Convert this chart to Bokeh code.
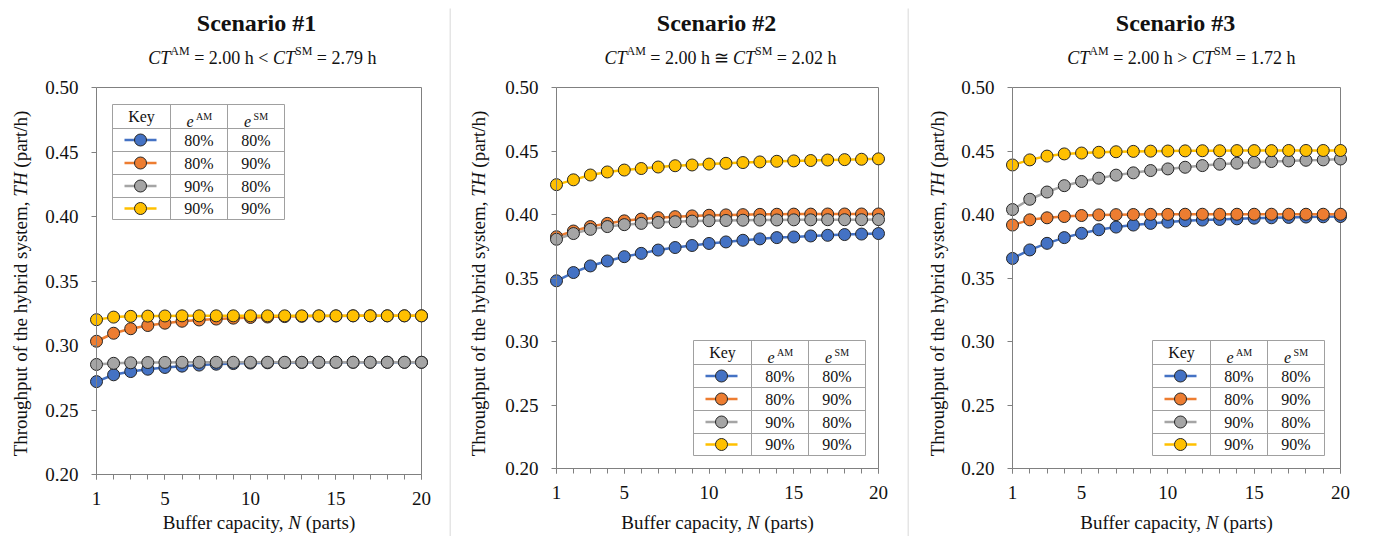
import math
import subprocess
from bokeh.plotting import figure
from bokeh.models import Range1d, FixedTicker, Label, NumeralTickFormatter
from bokeh.layouts import row
from bokeh.embed import file_html
from bokeh.resources import INLINE

# ---------------- data ----------------
N_PARTS = [1, 2, 3, 4, 5, 6, 7, 8, 9, 10, 11, 12, 13, 14, 15, 16, 17, 18, 19, 20]

TITLES = ["Scenario #1", "Scenario #2", "Scenario #3"]
CT_AM = ["2.00", "2.00", "2.00"]
CT_SM = ["2.79", "2.02", "1.72"]
RELATION = ["<", "≅", ">"]

KEY_E_AM = ["80%", "80%", "90%", "90%"]
KEY_E_SM = ["80%", "90%", "80%", "90%"]

# Scenario 1
S1_AM80_SM80 = [0.2720, 0.2773, 0.2798, 0.2816, 0.2830, 0.2840, 0.2848, 0.2855, 0.2860, 0.2864,
                0.2866, 0.2868, 0.2869, 0.2870, 0.2870, 0.2870, 0.2870, 0.2870, 0.2870, 0.2870]
S1_AM80_SM90 = [0.3033, 0.3095, 0.3130, 0.3155, 0.3173, 0.3188, 0.3198, 0.3205, 0.3212, 0.3217,
                0.3221, 0.3224, 0.3226, 0.3228, 0.3229, 0.3230, 0.3230, 0.3230, 0.3230, 0.3230]
S1_AM90_SM80 = [0.2853, 0.2862, 0.2866, 0.2868, 0.2869, 0.2870, 0.2870, 0.2870, 0.2870, 0.2870,
                0.2870, 0.2870, 0.2870, 0.2870, 0.2870, 0.2870, 0.2870, 0.2870, 0.2870, 0.2870]
S1_AM90_SM90 = [0.3200, 0.3220, 0.3226, 0.3228, 0.3229, 0.3230, 0.3230, 0.3230, 0.3230, 0.3230,
                0.3230, 0.3230, 0.3230, 0.3230, 0.3230, 0.3230, 0.3230, 0.3230, 0.3230, 0.3230]

# Scenario 2
S2_AM80_SM80 = [0.3478, 0.3543, 0.3595, 0.3634, 0.3668, 0.3694, 0.3720, 0.3740, 0.3756, 0.3772,
                0.3784, 0.3797, 0.3808, 0.3818, 0.3823, 0.3831, 0.3836, 0.3842, 0.3846, 0.3850]
S2_AM80_SM90 = [0.3825, 0.3870, 0.3905, 0.3930, 0.3950, 0.3964, 0.3975, 0.3983, 0.3989, 0.3994,
                0.3997, 0.3999, 0.4001, 0.4002, 0.4003, 0.4003, 0.4004, 0.4004, 0.4004, 0.4004]
S2_AM90_SM80 = [0.3805, 0.3850, 0.3883, 0.3905, 0.3920, 0.3930, 0.3938, 0.3943, 0.3948, 0.3951,
                0.3953, 0.3955, 0.3956, 0.3957, 0.3958, 0.3958, 0.3959, 0.3959, 0.3959, 0.3960]
S2_AM90_SM90 = [0.4235, 0.4273, 0.4311, 0.4335, 0.4350, 0.4362, 0.4374, 0.4384, 0.4390, 0.4397,
                0.4403, 0.4409, 0.4414, 0.4419, 0.4422, 0.4425, 0.4429, 0.4432, 0.4435, 0.4438]

# Scenario 3
S3_AM80_SM80 = [0.3654, 0.3721, 0.3773, 0.3818, 0.3852, 0.3880, 0.3901, 0.3917, 0.3930, 0.3940,
                0.3950, 0.3956, 0.3961, 0.3966, 0.3971, 0.3974, 0.3977, 0.3980, 0.3982, 0.3984]
S3_AM80_SM90 = [0.3917, 0.3958, 0.3974, 0.3984, 0.3992, 0.3997, 0.3999, 0.4000, 0.4001, 0.4001,
                0.4002, 0.4002, 0.4002, 0.4002, 0.4002, 0.4002, 0.4002, 0.4002, 0.4002, 0.4002]
S3_AM90_SM80 = [0.4039, 0.4120, 0.4177, 0.4227, 0.4260, 0.4286, 0.4310, 0.4328, 0.4346, 0.4359,
                0.4372, 0.4385, 0.4396, 0.4404, 0.4411, 0.4417, 0.4422, 0.4427, 0.4430, 0.4437]
S3_AM90_SM90 = [0.4390, 0.4430, 0.4460, 0.4477, 0.4484, 0.4490, 0.4494, 0.4497, 0.4499, 0.4500,
                0.4501, 0.4502, 0.4502, 0.4503, 0.4503, 0.4503, 0.4504, 0.4504, 0.4504, 0.4504]

SCENARIOS = [
    [S1_AM80_SM80, S1_AM80_SM90, S1_AM90_SM80, S1_AM90_SM90],
    [S2_AM80_SM80, S2_AM80_SM90, S2_AM90_SM80, S2_AM90_SM90],
    [S3_AM80_SM80, S3_AM80_SM90, S3_AM90_SM80, S3_AM90_SM90],
]

X_MIN, X_MAX = 1, 20
Y_MIN, Y_MAX = 0.20, 0.50
Y_TICKS = [0.20, 0.25, 0.30, 0.35, 0.40, 0.45, 0.50]
X_TICKS = [1, 5, 10, 15, 20]

# ---------------- style / layout ----------------
COLORS = ["#4472C4", "#ED7D31", "#A5A5A5", "#FFC000"]
SERIF = "Liberation Serif"
TXT = "#111111"
AXIS_C = "#808080"
SEP_C = "#cccccc"
H_TOTAL = 536

_FONT_FILES = {}


def _font_path(style):
    if style not in _FONT_FILES:
        pat = {"normal": "Liberation Serif:style=Regular",
               "italic": "Liberation Serif:style=Italic",
               "bold": "Liberation Serif:style=Bold"}[style]
        try:
            path = subprocess.run(["fc-match", "-f", "%{file}", pat], capture_output=True,
                                  text=True, timeout=10).stdout.strip()
        except Exception:
            path = ""
        _FONT_FILES[style] = path
    return _FONT_FILES[style]


def text_width(s, size, style="normal"):
    try:
        from PIL import ImageFont
        f = ImageFont.truetype(_font_path(style), 100)
        return f.getlength(s) * size / 100.0
    except Exception:
        return 0.5 * size * len(s)


def chain_layout(frags):
    out = []
    x = 0.0
    for t, size, style, rise in frags:
        core = t.strip(" ")
        lead = len(t) - len(t.lstrip(" "))
        lead_w = text_width(" " * lead, size, style) if lead else 0.0
        if core:
            out.append((core, size, style, rise, x + lead_w))
        x += text_width(t, size, style)
    return out, x


# panel geometry in page pixels: figure span, plot box (left, right, top, bottom)
PANELS = [
    dict(span=(0, 449), box=(96, 421, 87, 474), title_cx=256, ylab_cx=20, table=(112, 104), sep=None),
    dict(span=(449, 907), box=(556, 878, 87, 468), title_cx=716, ylab_cx=478, table=(693, 340), sep=449.5),
    dict(span=(907, 1373), box=(1012, 1340, 87, 468), title_cx=1175, ylab_cx=937, table=(1152, 340), sep=907.5),
]


def build_panel(k, g):
    PX0, PX1 = g["span"]
    BL, BR, BT, BB = g["box"]
    ppx = (BR - BL) / (X_MAX - X_MIN)
    ppy = (BB - BT) / (Y_MAX - Y_MIN)

    def X(px):
        return X_MIN + (px - BL) / ppx

    def Y(py):
        return Y_MIN + (BB - py) / ppy

    p = figure(width=PX1 - PX0, height=H_TOTAL,
               x_range=Range1d(X(PX0), X(PX1)), y_range=Range1d(Y(H_TOTAL), Y(0)),
               output_backend="svg", toolbar_location=None, min_border=0)
    p.title.visible = False
    p.background_fill_color = "white"
    p.border_fill_color = "white"
    p.outline_line_color = None
    p.xgrid.grid_line_color = None
    p.ygrid.grid_line_color = None

    for ax in (p.xaxis[0], p.yaxis[0]):
        ax.axis_line_color = AXIS_C
        ax.axis_line_width = 1
        ax.major_tick_line_color = AXIS_C
        ax.minor_tick_line_color = AXIS_C
        ax.major_tick_in = 0
        ax.major_tick_out = 5
        ax.minor_tick_in = 0
        ax.major_label_text_font = SERIF
        ax.major_label_text_font_size = "19px"
        ax.major_label_text_color = TXT
    p.yaxis[0].major_label_standoff = 13
    p.xaxis[0].major_label_standoff = 12
    p.yaxis[0].ticker = FixedTicker(ticks=Y_TICKS)
    p.yaxis[0].minor_tick_out = 0
    p.yaxis[0].formatter = NumeralTickFormatter(format="0.00")
    p.yaxis[0].bounds = (Y_MIN, Y_MAX)
    p.yaxis[0].fixed_location = X_MIN
    p.xaxis[0].ticker = FixedTicker(ticks=X_TICKS, minor_ticks=N_PARTS)
    p.xaxis[0].minor_tick_out = 5
    p.xaxis[0].bounds = (X_MIN, X_MAX)
    p.xaxis[0].fixed_location = Y_MIN

    def label(text, px, py, size, style="normal", align="center", baseline="middle", angle=0.0):
        p.add_layout(Label(x=X(px), y=Y(py), text=text, text_font=SERIF,
                           text_font_size=f"{size}px", text_font_style=style, text_color=TXT,
                           text_align=align, text_baseline=baseline, angle=angle))

    # separator between panels
    if g["sep"] is not None:
        p.segment(x0=[X(g["sep"])], x1=[X(g["sep"])], y0=[Y(8)], y1=[Y(H_TOTAL)],
                  line_color=SEP_C, line_width=1)

    # top and right edges of the plot box
    p.segment(x0=[X_MIN, X_MAX], x1=[X_MAX, X_MAX], y0=[Y_MAX, Y_MIN], y1=[Y_MAX, Y_MAX],
              line_color=AXIS_C, line_width=1)

    # series
    for ys, c in zip(SCENARIOS[k], COLORS):
        p.line(N_PARTS, ys, line_color=c, line_width=2.5)
        p.scatter(N_PARTS, ys, size=12, marker="circle", fill_color=c,
                  line_color="#262626", line_width=1)

    # ---- key table ----
    tx, ty = g["table"]
    cols = [0, 58, 115, 172]
    rows = [0, 24, 47, 70, 93, 115]
    tc = "#a0a0a0"
    p.quad(left=X(tx), right=X(tx + cols[-1]), top=Y(ty), bottom=Y(ty + rows[-1]),
           fill_color="white", line_color=tc, line_width=1)
    for r in rows[1:-1]:
        p.segment(x0=X(tx), x1=X(tx + cols[-1]), y0=Y(ty + r), y1=Y(ty + r),
                  line_color=tc, line_width=1)
    for cpx in cols[1:-1]:
        p.segment(x0=X(tx + cpx), x1=X(tx + cpx), y0=Y(ty), y1=Y(ty + rows[-1]),
                  line_color=tc, line_width=1)

    hy = ty + rows[1] / 2
    label("Key", tx + (cols[0] + cols[1]) / 2, hy, 16)
    for ci, sup in ((1, "AM"), (2, "SM")):
        frags, w = chain_layout([("e", 16, "italic", 0), (" " + sup, 10, "normal", 5)])
        sx = tx + (cols[ci] + cols[ci + 1]) / 2 - w / 2
        for core, size, style, rise, off in frags:
            label(core, sx + off, hy + 5 - rise, size, style, align="left", baseline="alphabetic")
    for j in range(4):
        yc = ty + (rows[j + 1] + rows[j + 2]) / 2
        p.segment(x0=X(tx + 12), x1=X(tx + 44), y0=Y(yc), y1=Y(yc),
                  line_color=COLORS[j], line_width=2.5)
        p.scatter([X(tx + 28)], [Y(yc)], size=12, marker="circle", fill_color=COLORS[j],
                  line_color="#262626", line_width=1)
        label(KEY_E_AM[j], tx + (cols[1] + cols[2]) / 2, yc, 16)
        label(KEY_E_SM[j], tx + (cols[2] + cols[3]) / 2, yc, 16)

    # ---- headers ----
    label(TITLES[k], g["title_cx"], 22, 24, "bold")
    sub = [("CT", 18, "italic", 0), ("AM", 12, "normal", 7),
           (f" = {CT_AM[k]} h {RELATION[k]} ", 18, "normal", 0),
           ("CT", 18, "italic", 0), ("SM", 12, "normal", 7),
           (f" = {CT_SM[k]} h", 18, "normal", 0)]
    frags, w = chain_layout(sub)
    sx = g["title_cx"] + 120 - w
    for core, size, style, rise, off in frags:
        label(core, sx + off, 57 - rise, size, style, align="left", baseline="alphabetic")

    # ---- axis titles ----
    xl = [("Buffer capacity, ", 19, "normal", 0), ("N", 19, "italic", 0), (" (parts)", 19, "normal", 0)]
    frags, w = chain_layout(xl)
    sx = (BL + BR) / 2 - w / 2
    for core, size, style, rise, off in frags:
        label(core, sx + off, 522, size, style, align="left", baseline="middle")

    yl = [("Throughput of the hybrid system, ", 19, "normal", 0), ("TH", 19, "italic", 0),
          (" (part/h)", 19, "normal", 0)]
    frags, w = chain_layout(yl)
    sy = 283 + w / 2
    for core, size, style, rise, off in frags:
        label(core, g["ylab_cx"], sy - off, size, style, align="left", baseline="middle",
              angle=math.pi / 2)
    return p


figs = [build_panel(k, g) for k, g in enumerate(PANELS)]
layout = row(*figs, spacing=0)
open("out.html", "w").write(file_html(layout, INLINE))
